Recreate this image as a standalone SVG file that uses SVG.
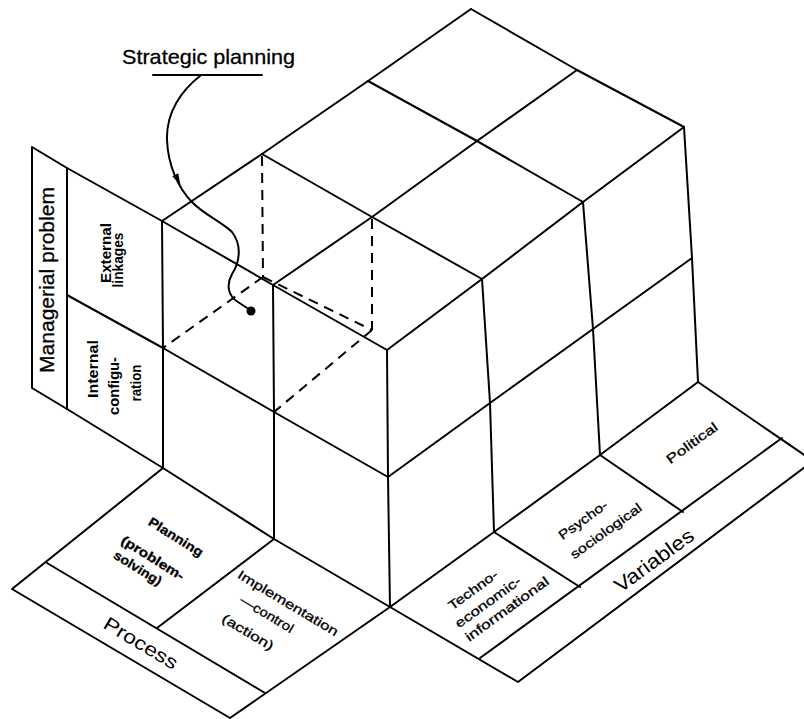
<svg xmlns="http://www.w3.org/2000/svg" width="804" height="719" viewBox="0 0 804 719">
<style>
.ln{stroke:#000;stroke-width:2;fill:none;stroke-linecap:round;stroke-linejoin:round}
.dash{stroke:#000;stroke-width:2;fill:none;stroke-dasharray:10 7}
text{font-family:"Liberation Sans",Arial,sans-serif;fill:#000}
.big{font-size:21px;stroke:#000;stroke-width:0.3}
.sm{font-size:13px;stroke:#000;stroke-width:0.3}
.smb{font-size:14px;font-weight:bold}
</style>
<rect x="0" y="0" width="804" height="719" fill="#fff"/>

<g id="cube-top">
<polyline class="ln" points="162,221 262,154 368,81 471,9"/>
<polyline class="ln" points="273,285 372,217 477,141 577,70"/>
<polyline class="ln" points="387,350 482,279 583,202 684,127"/>
<polyline class="ln" points="162,221 273,285 387,350"/>
<polyline class="ln" points="262,154 372,217 482,279"/>
<polyline class="ln" points="368,81 477,141 583,202"/>
<polyline class="ln" points="471,9 577,70 684,127"/>
</g>

<g id="cube-right-face">
<polyline class="ln" points="387,350 388,477 390,607"/>
<polyline class="ln" points="482,279 490,403 494,532"/>
<polyline class="ln" points="583,202 593,329 600,455"/>
<polyline class="ln" points="684,127 692,258 698,382"/>
<polyline class="ln" points="388,477 490,403 593,329 692,258"/>
</g>

<g id="cube-left-face">
<polyline class="ln" points="162,221 163,348 163,468"/>
<polyline class="ln" points="273,285 274,412 274,539"/>
<polyline class="ln" points="163,348 274,412 388,477"/>
</g>

<g id="hidden-cell">
<line class="dash" x1="262" y1="156" x2="263" y2="277"/>
<line class="dash" x1="372" y1="219" x2="372" y2="330"/>
<line class="dash" x1="263" y1="277" x2="372" y2="330"/>
<line class="dash" x1="263" y1="277" x2="163" y2="348"/>
<line class="dash" x1="372" y1="330" x2="274" y2="412"/>
</g>

<g id="managerial-panel">
<polyline class="ln" points="162,221 67,168 32,147 32,388 67,409 163,468"/>
<line class="ln" x1="67" y1="168" x2="67" y2="409"/>
<line class="ln" x1="67" y1="295" x2="163" y2="348"/>
<text class="big" transform="translate(54,280) rotate(-90)" text-anchor="middle" textLength="186" lengthAdjust="spacingAndGlyphs">Managerial problem</text>
<text class="smb" transform="translate(111,253) rotate(-90)" text-anchor="middle" textLength="60" lengthAdjust="spacingAndGlyphs">External</text>
<text class="smb" transform="translate(123,260) rotate(-90)" text-anchor="middle" textLength="55" lengthAdjust="spacingAndGlyphs">linkages</text>
<text class="smb" transform="translate(98,369) rotate(-90)" text-anchor="middle" textLength="58" lengthAdjust="spacingAndGlyphs">Internal</text>
<text class="smb" transform="translate(119,386) rotate(-90)" text-anchor="middle" textLength="58" lengthAdjust="spacingAndGlyphs">configu-</text>
<text class="smb" transform="translate(141,383) rotate(-90)" text-anchor="middle" textLength="37" lengthAdjust="spacingAndGlyphs">ration</text>
</g>

<g id="process-panel">
<polygon class="ln" points="163,468 12,589 230,718 390,607 274,539"/>
<line class="ln" x1="47" y1="563" x2="265" y2="693"/>
<line class="ln" x1="274" y1="539" x2="157" y2="628"/>
<text class="sm" font-weight="bold" transform="translate(173.5,540.8) rotate(32)" text-anchor="middle" textLength="62" lengthAdjust="spacingAndGlyphs">Planning</text>
<text class="sm" font-weight="bold" transform="translate(150.5,561.8) rotate(32)" text-anchor="middle" textLength="72" lengthAdjust="spacingAndGlyphs">(problem-</text>
<text class="sm" font-weight="bold" transform="translate(135.5,571.8) rotate(32)" text-anchor="middle" textLength="54" lengthAdjust="spacingAndGlyphs">solving)</text>
<text class="sm" transform="translate(285.7,606.9) rotate(31)" text-anchor="middle" textLength="115" lengthAdjust="spacingAndGlyphs">Implementation</text>
<text class="sm" transform="translate(264.7,617.9) rotate(31)" text-anchor="middle" textLength="60" lengthAdjust="spacingAndGlyphs">—control</text>
<text class="sm" transform="translate(245.7,635.9) rotate(31)" text-anchor="middle" textLength="58" lengthAdjust="spacingAndGlyphs">(action)</text>
<text font-size="19" transform="translate(137.5,648.7) rotate(31)" text-anchor="middle" textLength="83" lengthAdjust="spacingAndGlyphs">Process</text>
</g>

<g id="variables-panel">
<polygon class="ln" points="390,607 518,682 813,461 698,382 600,455 494,532"/>
<line class="ln" x1="480" y1="658" x2="782" y2="438"/>
<line class="ln" x1="494" y1="532" x2="580" y2="587"/>
<line class="ln" x1="600" y1="455" x2="683" y2="512"/>
<text class="sm" transform="translate(475.6,593.6) rotate(-36)" text-anchor="middle" textLength="58" lengthAdjust="spacingAndGlyphs">Techno-</text>
<text class="sm" transform="translate(490.6,605.6) rotate(-36)" text-anchor="middle" textLength="78" lengthAdjust="spacingAndGlyphs">economic-</text>
<text class="sm" transform="translate(509.6,612.6) rotate(-36)" text-anchor="middle" textLength="100" lengthAdjust="spacingAndGlyphs">informational</text>
<text class="sm" transform="translate(585.6,523.6) rotate(-36)" text-anchor="middle" textLength="57" lengthAdjust="spacingAndGlyphs">Psycho-</text>
<text class="sm" transform="translate(608.6,534.6) rotate(-36)" text-anchor="middle" textLength="85" lengthAdjust="spacingAndGlyphs">sociological</text>
<text class="sm" transform="translate(694.6,446.6) rotate(-36)" text-anchor="middle" textLength="60" lengthAdjust="spacingAndGlyphs">Political</text>
<text font-size="20" transform="translate(658,566) rotate(-36)" text-anchor="middle" textLength="93" lengthAdjust="spacingAndGlyphs">Variables</text>
</g>

<g id="strategic-planning">
<text class="big" x="208.5" y="64" text-anchor="middle" textLength="173" lengthAdjust="spacingAndGlyphs">Strategic planning</text>
<line class="ln" x1="153" y1="75" x2="262" y2="75" stroke-width="2.5"/>
</g>

<g id="connectors">
<path class="ln" d="M200,76 C182,90 166,112 167,140 C168,165 178,188 192,202 C203,214 222,222 232,232 C242,245 240,262 232,274 C226,285 228,296 238,302 L250,310"/>
<polygon points="180.5,185 178.2,173.2 172.3,176.2" fill="#000"/>
<circle cx="251" cy="311" r="4.5" fill="#000"/>
</g>
</svg>
